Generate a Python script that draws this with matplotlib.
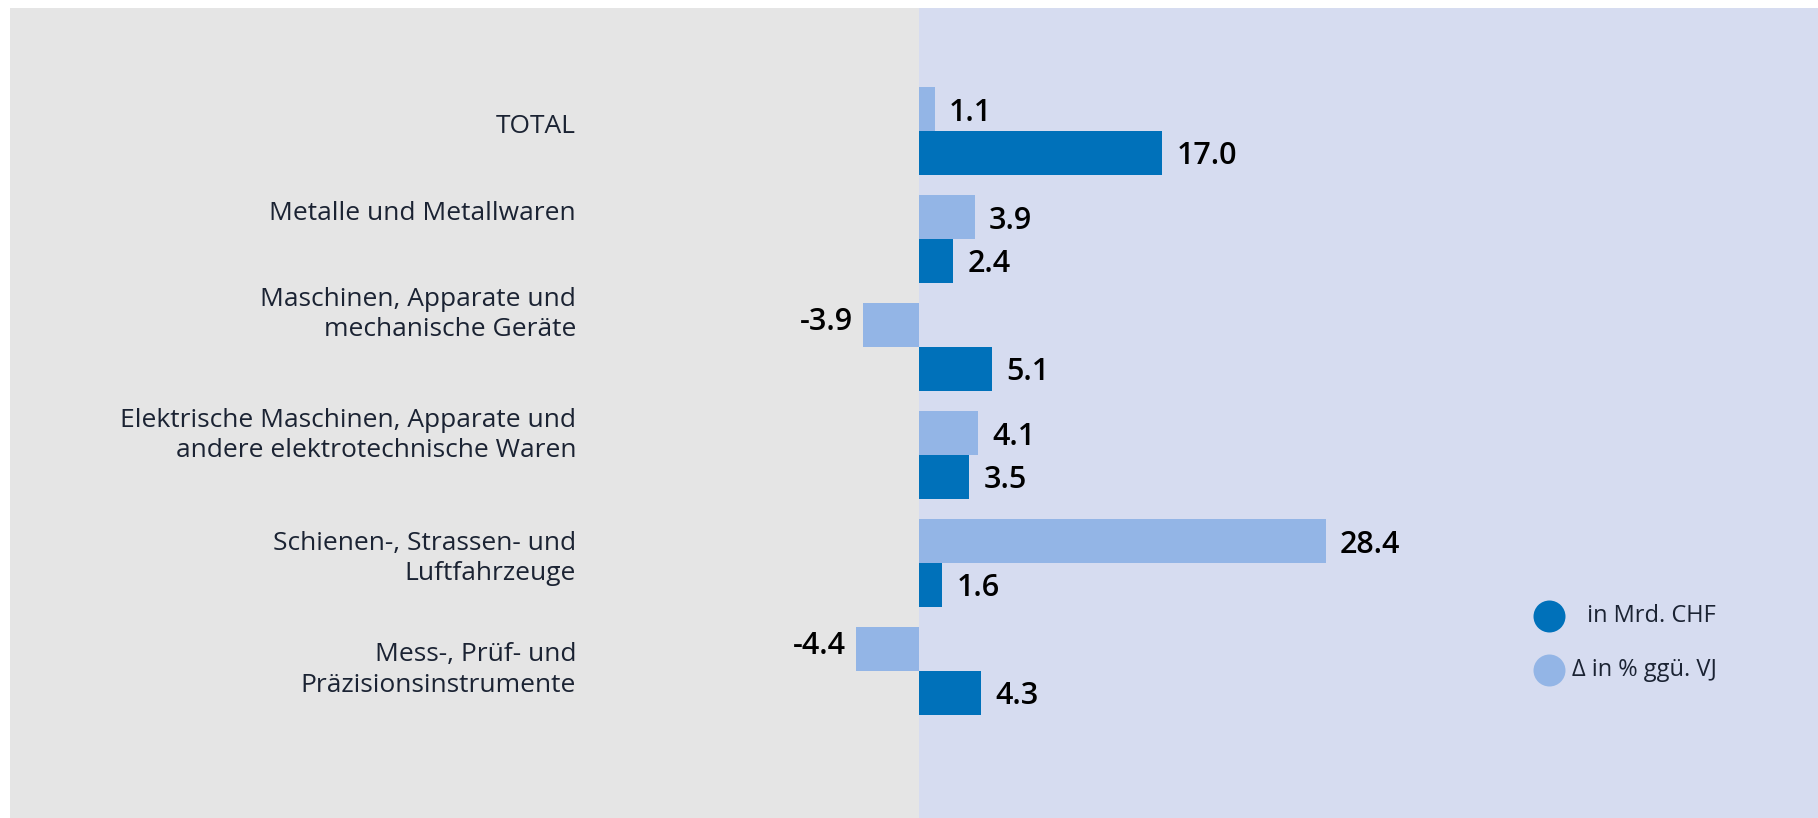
import matplotlib.pyplot as plt

plt.rcParams['font.family'] = ['Open Sans', 'DejaVu Sans']

# Daten
categories = [
    "TOTAL",
    "Metalle und Metallwaren",
    "Maschinen, Apparate und\nmechanische Geräte",
    "Elektrische Maschinen, Apparate und\nandere elektrotechnische Waren",
    "Schienen-, Strassen- und\nLuftfahrzeuge",
    "Mess-, Prüf- und\nPräzisionsinstrumente",
]
mrd_chf = [17.0, 2.4, 5.1, 3.5, 1.6, 4.3]
delta_pct = [1.1, 3.9, -3.9, 4.1, 28.4, -4.4]
legend_labels = [" in Mrd. CHF", "Δ in % ggü. VJ"]

# Farben
dark = "#0071BA"
light = "#93B5E6"
grey_bg = "#E5E5E5"
blue_bg = "#D6DCF0"
text_col = "#1B2333"

W, H = 1818, 818
fig = plt.figure(figsize=(W / 100, H / 100), dpi=100)
ax = fig.add_axes([0, 0, 1, 1])

px_per_unit = 14.32
x_zero = 919
ax.set_xlim(-x_zero / px_per_unit, (W - x_zero) / px_per_unit)
ax.set_ylim((H - 131) / 108, -131 / 108)
ax.axis("off")

# Hintergrundflächen
top = 1 - 8 / H
ax.axvspan(-(x_zero - 10) / px_per_unit, 0, ymin=0, ymax=top, color=grey_bg, lw=0, zorder=0)
ax.axvspan(0, (W - x_zero) / px_per_unit, ymin=0, ymax=top, color=blue_bg, lw=0, zorder=0)

h = 0.41
ys = list(range(len(categories)))
ax.barh([y - h / 2 for y in ys], delta_pct, height=h, color=light, zorder=2)
ax.barh([y + h / 2 for y in ys], mrd_chf, height=h, color=dark, zorder=2)

val_kw = dict(fontsize=22, fontweight="semibold", color="black", va="center")
gap = 1.0
for y, v in zip(ys, delta_pct):
    if v >= 0:
        ax.text(v + gap, y - h / 2 + 0.04, f"{v:.1f}", ha="left", **val_kw)
    else:
        ax.text(v - gap * 0.7, y - h / 2 - 0.03, f"{v:.1f}", ha="right", **val_kw)
for y, v in zip(ys, mrd_chf):
    ax.text(v + gap, y + h / 2 + 0.03, f"{v:.1f}", ha="left", **val_kw)

# Kategorienbeschriftungen
label_x = -(x_zero - 576) / px_per_unit
label_shift = [-0.04, -0.24, -0.30, -0.18, -0.04, -0.01]
for y, lab, s in zip(ys, categories, label_shift):
    ax.text(label_x, y + s, lab, ha="right", va="center", fontsize=19,
            color=text_col, linespacing=1.28)

# Legende
leg_x = (1549 - x_zero) / px_per_unit
leg_ys = [(616 - 131) / 108, (670 - 131) / 108]
for ly, col, lab in zip(leg_ys, [dark, light], legend_labels):
    ax.scatter([leg_x], [ly], s=530, color=col, lw=0, zorder=3)
    ax.text(leg_x + 2.2 if lab.startswith(" ") else leg_x + 1.6, ly, lab,
            ha="left", va="center", fontsize=17, color=text_col)

fig.savefig("out.png", dpi=100, facecolor="white")
